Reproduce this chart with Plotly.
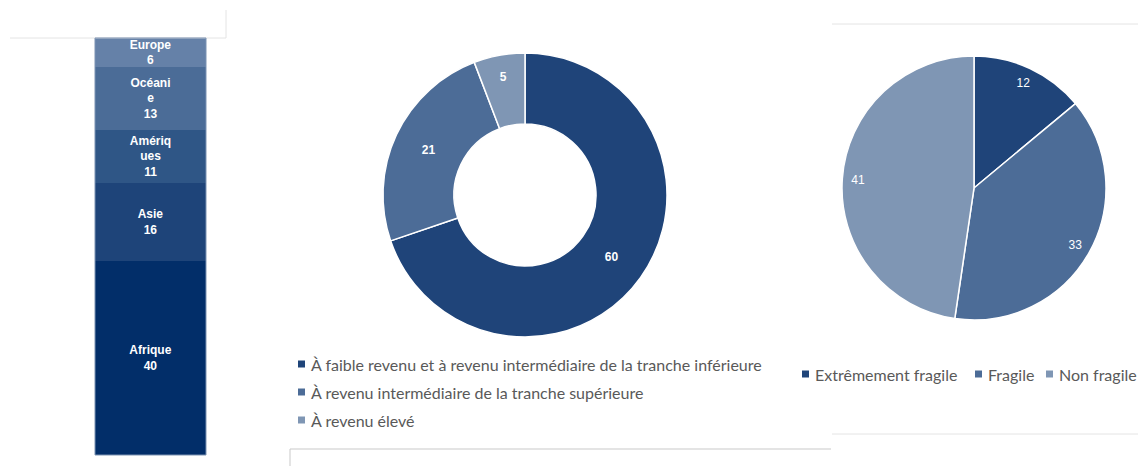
import plotly.graph_objects as go

W, H = 1138, 466

# Stacked bar: countries by region (bottom to top)
region_names = ["Afrique", "Asie", "Amériq<br>ues", "Océani<br>e", "Europe"]
region_values = [40, 16, 11, 13, 6]
region_colors = ["#022e69", "#1e4479", "#2f5686", "#4b6c97", "#6581a8"]

# Donut: income groups
income_groups = [
    "À faible revenu et à revenu intermédiaire de la tranche inférieure",
    "À revenu intermédiaire de la tranche supérieure",
    "À revenu élevé",
]
income_values = [60, 21, 5]

# Pie: fragility
fragility_groups = ["Extrêmement fragile", "Fragile", "Non fragile"]
fragility_values = [12, 33, 41]

slice_colors = ["#1f4479", "#4c6c97", "#7f96b4"]


def px_x(x):
    return x / W


def px_y(y):
    return 1 - y / H


fig = go.Figure()

for name, value, color in zip(region_names, region_values, region_colors):
    fig.add_trace(go.Bar(
        x=["Total"], y=[value],
        marker=dict(color=color, line=dict(width=0)),
        text=[f"{name}<br>{value}"],
        textposition="inside", insidetextanchor="middle",
        constraintext="none",
        textfont=dict(family="Liberation Sans", size=12, color="white",
                      weight="bold"),
        showlegend=False, hoverinfo="skip",
        xaxis="x", yaxis="y",
    ))

# Donut
fig.add_trace(go.Pie(
    labels=income_groups, values=income_values,
    hole=0.5, sort=False, direction="clockwise", rotation=0,
    marker=dict(colors=slice_colors, line=dict(color="white", width=1.5)),
    textinfo="value", textposition="inside",
    insidetextorientation="horizontal",
    textfont=dict(family="Liberation Sans", size=12, color="white",
                  weight="bold"),
    domain=dict(x=[px_x(525 - 142), px_x(525 + 142)],
                y=[px_y(195 + 142), px_y(195 - 142)]),
    showlegend=False, hoverinfo="label+value",
))

pie_domain = dict(x=[px_x(974 - 132), px_x(974 + 132)],
                  y=[px_y(188 + 132), px_y(188 - 132)])

# Pie
fig.add_trace(go.Pie(
    labels=fragility_groups, values=fragility_values,
    sort=False, direction="clockwise", rotation=0,
    marker=dict(colors=slice_colors, line=dict(color="white", width=1.5)),
    textinfo="none",
    domain=pie_domain, showlegend=False, hoverinfo="label+value",
))

# Value labels of the pie, placed near the rim by a transparent ring
fig.add_trace(go.Pie(
    labels=fragility_groups, values=fragility_values,
    hole=0.76, sort=False, direction="clockwise", rotation=0,
    marker=dict(colors=["rgba(0,0,0,0)"] * 3, line=dict(width=0)),
    textinfo="value", textposition="inside",
    insidetextorientation="horizontal",
    textfont=dict(family="Liberation Sans", size=12, color="white"),
    domain=pie_domain, showlegend=False, hoverinfo="skip",
))

line_light = dict(color="#e4e4e4", width=1)
line_mid = dict(color="#c9c9c9", width=1)
shapes = [
    dict(type="line", xref="paper", yref="paper", x0=px_x(10), x1=px_x(226),
         y0=px_y(38), y1=px_y(38), line=line_light),
    dict(type="line", xref="paper", yref="paper", x0=px_x(226), x1=px_x(226),
         y0=px_y(10), y1=px_y(38), line=line_light),
    dict(type="line", xref="paper", yref="paper", x0=px_x(832), x1=1,
         y0=px_y(24), y1=px_y(24), line=line_light),
    dict(type="line", xref="paper", yref="paper", x0=px_x(832), x1=1,
         y0=px_y(434), y1=px_y(434), line=line_light),
    dict(type="line", xref="paper", yref="paper", x0=px_x(290), x1=px_x(831),
         y0=px_y(449), y1=px_y(449), line=line_mid),
    dict(type="line", xref="paper", yref="paper", x0=px_x(290), x1=px_x(290),
         y0=px_y(449), y1=0, line=line_mid),
    # bar outline
    dict(type="rect", xref="paper", yref="paper", x0=px_x(95), x1=px_x(206),
         y0=px_y(455), y1=px_y(38), line=dict(color="#7d93b3", width=1)),
]

annotations = []
legend_font = dict(family="Lato", size=16, color="#595959")


def legend_entry(x, y, label, color):
    """Square swatch followed by its label; x, y in pixels from top-left."""
    shapes.append(dict(type="rect", xref="paper", yref="paper",
                       x0=px_x(x), x1=px_x(x + 7),
                       y0=px_y(y + 3.5), y1=px_y(y - 3.5),
                       fillcolor=color, line=dict(width=0)))
    annotations.append(dict(xref="paper", yref="paper",
                            x=px_x(x + 11), y=px_y(y),
                            xanchor="left", yanchor="middle",
                            text=label, showarrow=False, font=legend_font))


# Donut legend: stacked rows
for i, (label, color) in enumerate(zip(income_groups, slice_colors)):
    legend_entry(298, 364 + 28 * i, label, color)

# Pie legend: one row
for x, label, color in zip([802, 975, 1046], fragility_groups, slice_colors):
    legend_entry(x, 374, label, color)

fig.update_layout(
    width=W, height=H,
    margin=dict(l=0, r=0, t=0, b=0),
    paper_bgcolor="white", plot_bgcolor="white",
    barmode="stack", bargap=0,
    xaxis=dict(domain=[px_x(95), px_x(206)], range=[-0.5, 0.5],
               visible=False, fixedrange=True),
    yaxis=dict(domain=[px_y(455), px_y(38)], range=[0, sum(region_values)],
               visible=False, fixedrange=True),
    showlegend=False,
    shapes=shapes,
    annotations=annotations,
)

fig.write_html("out.html")
